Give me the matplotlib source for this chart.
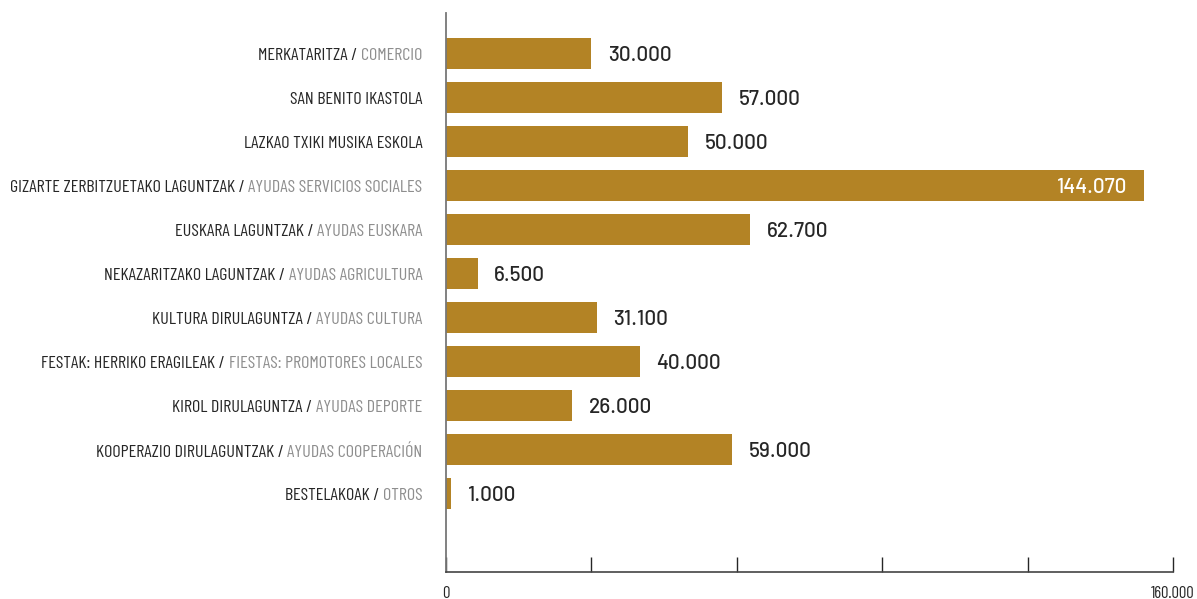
import matplotlib
matplotlib.use("Agg")
import matplotlib.pyplot as plt

# data
labels_eu = ["MERKATARITZA", "SAN BENITO IKASTOLA", "LAZKAO TXIKI MUSIKA ESKOLA",
             "GIZARTE ZERBITZUETAKO LAGUNTZAK", "EUSKARA LAGUNTZAK",
             "NEKAZARITZAKO LAGUNTZAK", "KULTURA DIRULAGUNTZA",
             "FESTAK: HERRIKO ERAGILEAK", "KIROL DIRULAGUNTZA",
             "KOOPERAZIO DIRULAGUNTZAK", "BESTELAKOAK"]
labels_es = ["COMERCIO", "", "", "AYUDAS SERVICIOS SOCIALES", "AYUDAS EUSKARA",
             "AYUDAS AGRICULTURA", "AYUDAS CULTURA", "FIESTAS: PROMOTORES LOCALES",
             "AYUDAS DEPORTE", "AYUDAS COOPERACIÓN", "OTROS"]
values = [30000, 57000, 50000, 144070, 62700, 6500, 31100, 40000, 26000, 59000, 1000]
value_text = ["30.000", "57.000", "50.000", "144.070", "62.700", "6.500",
              "31.100", "40.000", "26.000", "59.000", "1.000"]
tick_pos = [0, 30000, 60000, 90000, 120000, 150000]
tick_text = ["0", "", "", "", "", "160.000"]

cond = ["Barlow Condensed", "DejaVu Sans"]
din = ["Barlow", "DejaVu Sans"]
gold = "#B38325"
dark = "#262626"
grey = "#8E8E8E"

fig = plt.figure(figsize=(11.97, 5.99), dpi=100)
ax = fig.add_axes([0.3726, 0.0451, 0.6074, 0.9329])

y = list(range(len(values)))
ax.barh(y, values, height=0.70, color=gold)
ax.set_xlim(0, 150000)
ax.set_ylim(11.78, -0.92)

for i, v in enumerate(values):
    if v > 120000:
        ax.annotate(value_text[i], (v, i), xytext=(-12, -1), textcoords="offset points",
                    ha="right", va="center", color="white", fontsize=15, family=din,
                    weight="medium")
    else:
        ax.annotate(value_text[i], (v, i), xytext=(12, -1), textcoords="offset points",
                    ha="left", va="center", color=dark, fontsize=15, family=din,
                    weight="medium")

# two coloured category labels
for i in range(len(values)):
    if labels_es[i]:
        t = ax.annotate(labels_es[i], (0, i), xytext=(-17, -1.5), textcoords="offset points",
                        ha="right", va="center", color=grey, fontsize=13, family=cond)
        ax.annotate(labels_eu[i] + " / ", xy=(0, 0), xycoords=t, ha="right", va="bottom",
                    color=dark, fontsize=13, family=cond)
    else:
        ax.annotate(labels_eu[i], (0, i), xytext=(-17, -1.5), textcoords="offset points",
                    ha="right", va="center", color=dark, fontsize=13, family=cond)

ax.set_yticks([])
ax.set_xticks(tick_pos)
ax.set_xticklabels(tick_text, family=cond, fontsize=12, color=dark)
ax.tick_params(axis="x", direction="in", length=11, width=1, color=dark, pad=10)
for s in ["top", "right"]:
    ax.spines[s].set_visible(False)
ax.spines["left"].set_color("#777777")
ax.spines["left"].set_linewidth(1.3)
ax.spines["bottom"].set_color("#444444")
ax.spines["bottom"].set_linewidth(1.2)

fig.savefig("out.png", dpi=100)
